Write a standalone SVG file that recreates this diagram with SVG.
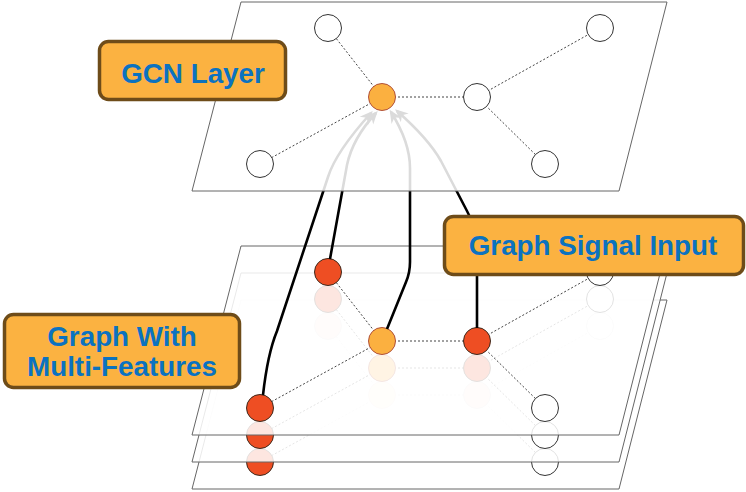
<svg xmlns="http://www.w3.org/2000/svg" width="746" height="492" viewBox="0 0 746 492">
<style>
.plane{fill:#fff;fill-opacity:0.86;stroke:#666;stroke-width:1}
.edge{fill:none;stroke:#444;stroke-width:1;stroke-dasharray:2 2}
.nw{fill:#fff;stroke:#333;stroke-width:1}
.nr{fill:#ee4e23;stroke:#3d2a1e;stroke-width:1}
.no{fill:#fbb040;stroke:#b0503a;stroke-width:1}
.arrow{fill:none;stroke:#000;stroke-width:2.6;stroke-linejoin:round;marker-end:url(#ah)}
.label rect{fill:#fbb241;stroke:#6e4c19;stroke-width:3.5}
.label text{font-family:"Liberation Sans",Arial,Helvetica,sans-serif;font-weight:bold;font-size:27.8px;fill:#0b72c0;text-anchor:middle}
</style>
<defs>
<marker id="ah" viewBox="0 0 10 10" markerUnits="userSpaceOnUse" markerWidth="13" markerHeight="13" refX="8" refY="5" orient="auto">
<path d="M0,0.5 L10,5 L0,9.5 L3,5 z" fill="#000"/>
</marker>
</defs>
<rect width="746" height="492" fill="#fff"/>

<!-- back plane 3 -->
<g id="plane3">
<polygon class="plane" points="241,300 667,300 619,489 192,489"/>
<g id="plane3-edges">
<line class="edge" x1="382" y1="395" x2="328" y2="326"/>
<line class="edge" x1="382" y1="395" x2="477" y2="395"/>
<line class="edge" x1="382" y1="395" x2="260" y2="462"/>
<line class="edge" x1="477" y1="395" x2="600" y2="326"/>
<line class="edge" x1="477" y1="395" x2="545" y2="462"/>
</g>
<g id="p3-n1"><circle class="nr" cx="328" cy="326" r="13.5"/></g>
<g id="p3-n2"><circle class="nw" cx="600" cy="326" r="13.5"/></g>
<g id="p3-n3"><circle class="no" cx="382" cy="395" r="13.5"/></g>
<g id="p3-n4"><circle class="nr" cx="477" cy="395" r="13.5"/></g>
<g id="p3-n5"><circle class="nr" cx="260" cy="462" r="13.5"/></g>
<g id="p3-n6"><circle class="nw" cx="545" cy="462" r="13.5"/></g>
</g>

<!-- plane 2 -->
<g id="plane2">
<polygon class="plane" points="241,273 667,273 619,462 192,462"/>
<g id="plane2-edges">
<line class="edge" x1="382" y1="368" x2="328" y2="299"/>
<line class="edge" x1="382" y1="368" x2="477" y2="368"/>
<line class="edge" x1="382" y1="368" x2="260" y2="435"/>
<line class="edge" x1="477" y1="368" x2="600" y2="299"/>
<line class="edge" x1="477" y1="368" x2="545" y2="435"/>
</g>
<g id="p2-n1"><circle class="nr" cx="328" cy="299" r="13.5"/></g>
<g id="p2-n2"><circle class="nw" cx="600" cy="299" r="13.5"/></g>
<g id="p2-n3"><circle class="no" cx="382" cy="368" r="13.5"/></g>
<g id="p2-n4"><circle class="nr" cx="477" cy="368" r="13.5"/></g>
<g id="p2-n5"><circle class="nr" cx="260" cy="435" r="13.5"/></g>
<g id="p2-n6"><circle class="nw" cx="545" cy="435" r="13.5"/></g>
</g>

<!-- plane 1 (front of stack) -->
<g id="plane1">
<polygon class="plane" points="241,246 667,246 619,435 192,435"/>
<g id="plane1-edges">
<line class="edge" x1="382" y1="341" x2="328" y2="272"/>
<line class="edge" x1="382" y1="341" x2="477" y2="341"/>
<line class="edge" x1="382" y1="341" x2="260" y2="408"/>
<line class="edge" x1="477" y1="341" x2="600" y2="272"/>
<line class="edge" x1="477" y1="341" x2="545" y2="408"/>
</g>
<g id="p1-n1"><circle class="nr" cx="328" cy="272" r="13.5"/></g>
<g id="p1-n2"><circle class="nw" cx="600" cy="272" r="13.5"/></g>
<g id="p1-n3"><circle class="no" cx="382" cy="341" r="13.5"/></g>
<g id="p1-n4"><circle class="nr" cx="477" cy="341" r="13.5"/></g>
<g id="p1-n5"><circle class="nr" cx="260" cy="408" r="13.5"/></g>
<g id="p1-n6"><circle class="nw" cx="545" cy="408" r="13.5"/></g>
</g>

<!-- connectors from input graph to GCN layer node -->
<g id="connectors">
<path class="arrow" d="M263,395 C266,368 270,348 277,331 L328,177 C334,158 352,134 371,113"/>
<path class="arrow" d="M330,259 L347,165 C351,146 363,127 376,113"/>
<path class="arrow" d="M387,329 L406,282 C409,275 410,270 410,262 L410,168 C410,148 401,128 391,112"/>
<path class="arrow" d="M477,328 L477,245 C477,232 473,222 467,211 L441,161 C432,145 414,126 397,111"/>
</g>

<!-- top plane: GCN layer -->
<g id="gcn-plane">
<polygon class="plane" points="241,2 667,2 619,191 192,191"/>
<g id="gcn-edges">
<line class="edge" x1="382" y1="97" x2="328" y2="28"/>
<line class="edge" x1="382" y1="97" x2="477" y2="97"/>
<line class="edge" x1="382" y1="97" x2="260" y2="164"/>
<line class="edge" x1="477" y1="97" x2="600" y2="28"/>
<line class="edge" x1="477" y1="97" x2="545" y2="164"/>
</g>
<g id="t-n1"><circle class="nw" cx="328" cy="28" r="13.5"/></g>
<g id="t-n2"><circle class="nw" cx="600" cy="28" r="13.5"/></g>
<g id="t-n3"><circle class="no" cx="382" cy="97" r="13.5"/></g>
<g id="t-n4"><circle class="nw" cx="477" cy="97" r="13.5"/></g>
<g id="t-n5"><circle class="nw" cx="260" cy="164" r="13.5"/></g>
<g id="t-n6"><circle class="nw" cx="545" cy="164" r="13.5"/></g>
</g>

<!-- labels -->
<g id="label-gcn" class="label">
<rect x="99.5" y="41.5" width="186" height="58" rx="9"/>
<text x="193" y="83">GCN Layer</text>
</g>
<g id="label-signal" class="label">
<rect x="444.5" y="216.5" width="299" height="58" rx="9"/>
<text x="593" y="255">Graph Signal Input</text>
</g>
<g id="label-multi" class="label">
<rect x="4.5" y="314.5" width="235" height="73" rx="9"/>
<text x="122" y="346">Graph With</text>
<text x="122" y="376">Multi-Features</text>
</g>
</svg>
